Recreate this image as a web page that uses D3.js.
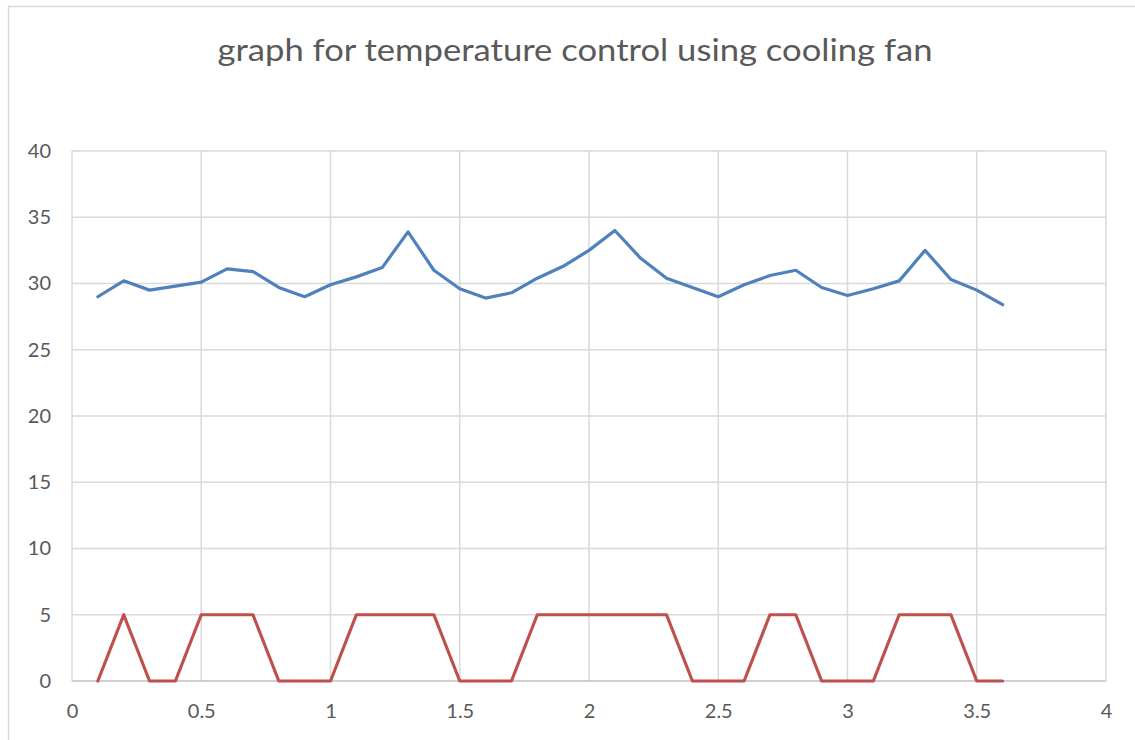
<!DOCTYPE html>
<html><head><meta charset="utf-8">
<script src="https://cdn.jsdelivr.net/npm/d3@7"></script>
<style>body{margin:0;background:#fff}svg{display:block}</style>
</head><body>
<svg id="c" width="1135" height="740"></svg>
<script>
const xValues = [0.1,0.2,0.3,0.4,0.5,0.6,0.7,0.8,0.9,1.0,1.1,1.2,1.3,1.4,1.5,1.6,1.7,1.8,1.9,2.0,2.1,2.2,2.3,2.4,2.5,2.6,2.7,2.8,2.9,3.0,3.1,3.2,3.3,3.4,3.5,3.6];
const temperature = [29.0,30.2,29.5,29.8,30.1,31.1,30.9,29.7,29.0,29.9,30.5,31.2,33.9,31.0,29.6,28.9,29.3,30.4,31.3,32.5,34.0,31.9,30.4,29.7,29.0,29.9,30.6,31.0,29.7,29.1,29.6,30.2,32.5,30.3,29.5,28.4];
const fan = [0,5,0,0,5,5,5,0,0,0,5,5,5,5,0,0,0,5,5,5,5,5,5,0,0,0,5,5,0,0,0,5,5,5,0,0];
const xTicks = [0,0.5,1,1.5,2,2.5,3,3.5,4];
const yTicks = [0,5,10,15,20,25,30,35,40];
const title = "graph for temperature control using cooling fan";

const svg = d3.select("#c");
const L=72, R=1106, T=151, B=681;
const x = d3.scaleLinear().domain([0,4]).range([L,R]);
const y = d3.scaleLinear().domain([0,40]).range([B,T]);
const font = "Lato, 'Open Sans', sans-serif";

// outer chart border
svg.append("rect").attr("x",8.5).attr("y",6.5).attr("width",1140).attr("height",750)
  .attr("fill","none").attr("stroke","#d9d9d9").attr("stroke-width",1.5);

// gridlines
svg.append("g").selectAll("line").data(yTicks.filter(d=>d>0)).join("line")
  .attr("x1",L).attr("x2",R).attr("y1",d=>y(d)).attr("y2",d=>y(d))
  .attr("stroke","#d9d9d9").attr("stroke-width",1.5);
svg.append("g").selectAll("line").data(xTicks).join("line")
  .attr("x1",d=>x(d)).attr("x2",d=>x(d)).attr("y1",T).attr("y2",B)
  .attr("stroke","#d9d9d9").attr("stroke-width",1.5);
// x axis line
svg.append("line").attr("x1",L).attr("x2",R).attr("y1",B).attr("y2",B)
  .attr("stroke","#bfbfbf").attr("stroke-width",1.5);

// axes labels via d3 axes
const xa = svg.append("g").attr("transform",`translate(0,${B})`)
  .call(d3.axisBottom(x).tickValues(xTicks).tickFormat(d3.format("")).tickSize(0).tickPadding(23));
xa.select(".domain").remove();
xa.selectAll("text").attr("fill","#595959").attr("font-size",20).attr("font-family",font);
const ya = svg.append("g").attr("transform",`translate(${L},0)`)
  .call(d3.axisLeft(y).tickValues(yTicks).tickSize(0).tickPadding(21));
ya.select(".domain").remove();
ya.selectAll("text").attr("fill","#595959").attr("font-size",20).attr("font-family",font);

// lines
const line = d3.line().x((d,i)=>x(xValues[i])).y(d=>y(d));
svg.append("path").datum(temperature).attr("d",line).attr("fill","none")
  .attr("stroke","#4f81bd").attr("stroke-width",3.2).attr("stroke-linejoin","round").attr("stroke-linecap","round");
svg.append("path").datum(fan).attr("d",line).attr("fill","none")
  .attr("stroke","#c0504d").attr("stroke-width",3.2).attr("stroke-linejoin","round").attr("stroke-linecap","round");

// title
svg.append("text").attr("x",575).attr("y",61).attr("text-anchor","middle")
  .attr("font-family",font).attr("font-size",31).attr("fill","#595959")
  .attr("textLength",715).attr("lengthAdjust","spacingAndGlyphs").text(title);
</script>
</body></html>
